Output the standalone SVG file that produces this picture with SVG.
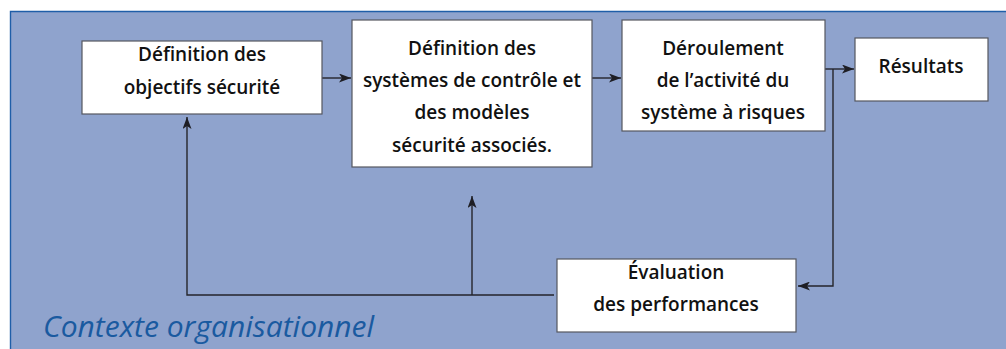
<svg xmlns="http://www.w3.org/2000/svg" width="1006" height="349" viewBox="0 0 1006 349">
  <style>
    .box { fill: #ffffff; stroke: #55585f; stroke-width: 1.2; }
    .lbl { font-family: "Open Sans", "Liberation Sans", sans-serif; font-weight: 600; font-size: 19px; fill: #111111; text-anchor: middle; }
    .wire { fill: none; stroke: #25252b; stroke-width: 1.4; }
    .ctx { font-family: "Open Sans", "Liberation Sans", sans-serif; font-style: italic; font-size: 30px; fill: #1a5aa0; }
  </style>
  <defs>
    <marker id="arrow" viewBox="0 0 12 9" refX="12" refY="4.5" markerWidth="12" markerHeight="9" markerUnits="userSpaceOnUse" orient="auto">
      <path d="M0,0 L12,4.5 L0,9 L3,4.5 Z" fill="#1e1e24"/>
    </marker>
  </defs>

  <!-- background panel -->
  <rect x="0" y="0" width="1006" height="349" fill="#ffffff"/>
  <rect x="10" y="11" width="1000" height="345" fill="#8fa3cd"/>
  <path d="M10.5,349 V11.5 H1006" fill="none" stroke="#1f5ea8" stroke-width="1.4"/>

  <!-- connectors -->
  <g id="connectors">
    <line class="wire" x1="322" y1="78" x2="351" y2="78" marker-end="url(#arrow)"/>
    <line class="wire" x1="592" y1="78" x2="621" y2="78" marker-end="url(#arrow)"/>
    <line class="wire" x1="825" y1="69" x2="854" y2="69" marker-end="url(#arrow)"/>
    <polyline class="wire" points="833,69 833,286 798,286" marker-end="url(#arrow)"/>
    <polyline class="wire" points="554,295 187,295 187,117" marker-end="url(#arrow)"/>
    <line class="wire" x1="472" y1="295" x2="472" y2="196" marker-end="url(#arrow)"/>
  </g>

  <g id="node-objectifs">
    <rect class="box" x="82" y="41" width="240" height="73"/>
    <text class="lbl" x="202" y="61">Définition des</text>
    <text class="lbl" x="202" y="94">objectifs sécurité</text>
  </g>

  <g id="node-systemes">
    <rect class="box" x="352" y="20" width="240" height="147"/>
    <text class="lbl" x="472" y="55">Définition des</text>
    <text class="lbl" x="472" y="87">systèmes de contrôle et</text>
    <text class="lbl" x="472" y="119">des modèles</text>
    <text class="lbl" x="472" y="152">sécurité associés.</text>
  </g>

  <g id="node-deroulement">
    <rect class="box" x="622" y="20" width="203" height="111"/>
    <text class="lbl" x="723" y="55">Déroulement</text>
    <text class="lbl" x="723" y="87">de l’activité du</text>
    <text class="lbl" x="723" y="119">système à risques</text>
  </g>

  <g id="node-resultats">
    <rect class="box" x="855" y="38" width="133" height="63"/>
    <text class="lbl" x="921" y="73">Résultats</text>
  </g>

  <g id="node-evaluation">
    <rect class="box" x="557" y="259" width="239" height="73"/>
    <text class="lbl" x="676" y="279">Évaluation</text>
    <text class="lbl" x="676" y="311">des performances</text>
  </g>

  <text class="ctx" x="43" y="337">Contexte organisationnel</text>
</svg>
